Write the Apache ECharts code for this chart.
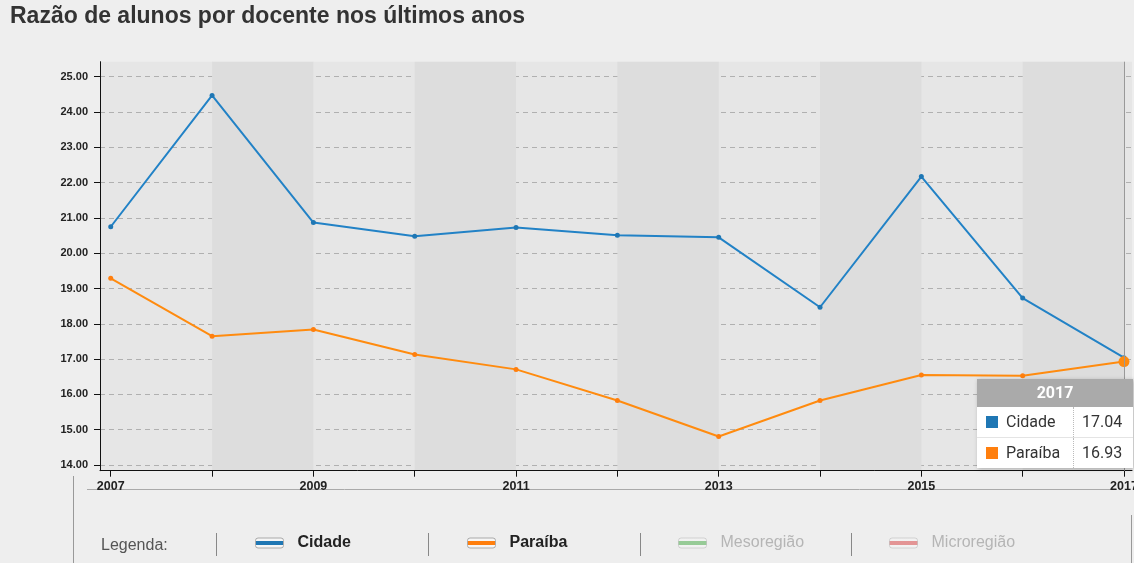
<!DOCTYPE html>
<html>
<head>
<meta charset="utf-8">
<script src="https://cdn.jsdelivr.net/npm/echarts@6/dist/echarts.min.js"></script>
<style>
  html, body { margin: 0; padding: 0; background: #eeeeee; overflow: hidden; }
  #main { width: 1134px; height: 563px; }
</style>
</head>
<body>
<div id="main"></div>
<script>
// Dados do gráfico
const anos = [2007, 2008, 2009, 2010, 2011, 2012, 2013, 2014, 2015, 2016, 2017];
const cidade = [20.75, 24.47, 20.87, 20.48, 20.73, 20.51, 20.45, 18.47, 22.17, 18.73, 17.04];
const paraiba = [19.29, 17.65, 17.84, 17.13, 16.71, 15.83, 14.81, 15.83, 16.55, 16.53, 16.93];
const anosRotulo = [2007, 2009, 2011, 2013, 2015, 2017];
const ticksY = [14, 15, 16, 17, 18, 19, 20, 21, 22, 23, 24, 25];
const legendaNomes = ["Cidade", "Paraíba", "Mesoregião", "Microregião"];

const cores = ["#1f77b4", "#ff7f0e", "#2ca02c", "#d62728"];
const fonte = "'Liberation Sans', Arial, sans-serif";

const initChart = () => {
  const chart = echarts.init(document.getElementById("main"));

  // Ícone da legenda: faixa colorida no meio de uma pílula clara
  const iconeLegenda = (cor, apagado) => ({
    color: {
      type: "linear", x: 0, y: 0, x2: 0, y2: 1,
      colorStops: [
        { offset: 0, color: "#f6f6f6" },
        { offset: 0.28, color: "#f6f6f6" },
        { offset: 0.28, color: cor },
        { offset: 0.72, color: cor },
        { offset: 0.72, color: "#f6f6f6" },
        { offset: 1, color: "#f6f6f6" },
      ],
    },
    opacity: apagado ? 0.45 : 1,
    borderColor: "#aaa",
    borderWidth: 1,
  });

  const posLegenda = [255, 467, 678, 889];
  const legendas = legendaNomes.map((nome, i) => ({
    left: posLegenda[i],
    top: 535,
    padding: 0,
    icon: "roundRect",
    itemWidth: 28,
    itemHeight: 10,
    itemGap: 0,
    selectedMode: false,
    textStyle: {
      fontFamily: fonte,
      fontSize: 16,
      fontWeight: i < 2 ? "bold" : "normal",
      color: i < 2 ? "#222" : "#b5b5b5",
      padding: [0, 0, 0, 9],
    },
    data: [{ name: nome, itemStyle: iconeLegenda(cores[i], i >= 2) }],
  }));

  const linha = (x1, y1, x2, y2, cor) => ({
    type: "line",
    shape: { x1, y1, x2, y2 },
    style: { stroke: cor, lineWidth: 1 },
    silent: true,
  });

  const option = {
    backgroundColor: "#eeeeee",
    animation: false,
    title: [
      {
        text: "Razão de alunos por docente nos últimos anos",
        left: 10,
        top: 5,
        padding: 0,
        textStyle: {
          fontFamily: fonte,
          fontSize: 23,
          fontWeight: "bold",
          color: "#333",
        },
      },
      {
        text: "Legenda:",
        left: 101,
        top: 538,
        padding: 0,
        textStyle: {
          fontFamily: fonte,
          fontSize: 16,
          fontWeight: "normal",
          color: "#555",
        },
      },
    ],
    legend: legendas,
    graphic: [
      linha(73.5, 476, 73.5, 563, "#999"),
      linha(87, 489.5, 1117, 489.5, "#aaa"),
      linha(216.5, 533, 216.5, 556, "#888"),
      linha(428.5, 533, 428.5, 556, "#888"),
      linha(640.5, 533, 640.5, 556, "#888"),
      linha(851.5, 533, 851.5, 556, "#888"),
      linha(1131.5, 515, 1131.5, 563, "#999"),
    ],
    tooltip: {
      trigger: "axis",
      triggerOn: "none",
      alwaysShowContent: true,
      padding: 0,
      borderWidth: 0,
      backgroundColor: "transparent",
      extraCssText: "box-shadow: 1px 1px 4px rgba(0,0,0,0.25); border-radius: 0;",
      position: () => [977, 379],
      axisPointer: {
        type: "line",
        lineStyle: { color: "#999", width: 1, type: "solid" },
      },
      formatter: (params) => {
        const ano = params[0].value[0];
        let html =
          '<div style="width:156px;font-family:Roboto,\'Liberation Sans\',sans-serif;background:#fff;">' +
          '<div style="background:#aaa;color:#fff;font-weight:bold;font-size:16px;text-align:center;height:28px;line-height:28px;">' +
          ano + "</div>";
        params.forEach((p, i) => {
          html +=
            '<div style="display:flex;height:30px;line-height:30px;font-size:16px;color:#333;' +
            (i > 0 ? "border-top:1px solid #e4e4e4;" : "") + '">' +
            '<div style="width:97px;border-right:1px dotted #bbb;padding-left:9px;box-sizing:border-box;">' +
            '<span style="display:inline-block;width:12px;height:12px;background:' + p.color +
            ';margin-right:8px;vertical-align:-1px;"></span>' + p.seriesName + "</div>" +
            '<div style="padding-left:8px;">' + p.value[1].toFixed(2) + "</div></div>";
        });
        return html + "</div>";
      },
    },
    grid: {
      left: 100,
      right: 2,
      top: 61.7,
      bottom: 92.3,
      outerBoundsMode: "none",
      containLabel: false,
      show: true,
      backgroundColor: "#e6e6e6",
      borderWidth: 0,
    },
    xAxis: {
      type: "value",
      min: 2006.894,
      max: 2017.079,
      axisLine: { onZero: false, lineStyle: { color: "#111", width: 1 } },
      axisTick: { show: true, length: 6, customValues: anos, lineStyle: { color: "#111" } },
      axisLabel: {
        customValues: anosRotulo,
        fontFamily: fonte,
        fontSize: 12.5,
        fontWeight: "bold",
        color: "#222",
        margin: 9,
        hideOverlap: false,
        formatter: (v) => String(v),
      },
      splitLine: { show: false },
      splitArea: {
        show: true,
        areaStyle: { color: ["rgba(0,0,0,0)", "#dddddd"] },
      },
    },
    yAxis: {
      type: "value",
      min: 13.84,
      max: 25.425,
      axisLine: { show: true, lineStyle: { color: "#111", width: 1 } },
      axisTick: { show: true, length: 6, customValues: ticksY, lineStyle: { color: "#111" } },
      axisLabel: {
        customValues: ticksY,
        fontFamily: fonte,
        fontSize: 11,
        fontWeight: "bold",
        color: "#222",
        margin: 12,
        formatter: (v) => v.toFixed(2),
      },
      splitLine: {
        show: true,
        lineStyle: { color: "#b0b0b0", type: [5, 4], width: 1 },
      },
      splitArea: { show: false },
    },
    series: [
      {
        name: "Cidade",
        type: "line",
        data: anos.map((a, i) => [a, cidade[i]]),
        symbol: "circle",
        symbolSize: 5,
        lineStyle: { color: cores[0], width: 2 },
        itemStyle: { color: cores[0] },
        emphasis: { scale: false },
      },
      {
        name: "Paraíba",
        type: "line",
        data: anos.map((a, i) => [a, paraiba[i]]),
        symbol: "circle",
        symbolSize: 5,
        lineStyle: { color: cores[1], width: 2 },
        itemStyle: { color: cores[1] },
        emphasis: { scale: 2.2 },
      },
      { name: "Mesoregião", type: "line", data: [], itemStyle: { color: cores[2] } },
      { name: "Microregião", type: "line", data: [], itemStyle: { color: cores[3] } },
    ],
  };

  chart.setOption(option);
  chart.dispatchAction({ type: "showTip", seriesIndex: 1, dataIndex: anos.length - 1 });
  return chart;
};

let chartInstance = initChart();
</script>
</body>
</html>
